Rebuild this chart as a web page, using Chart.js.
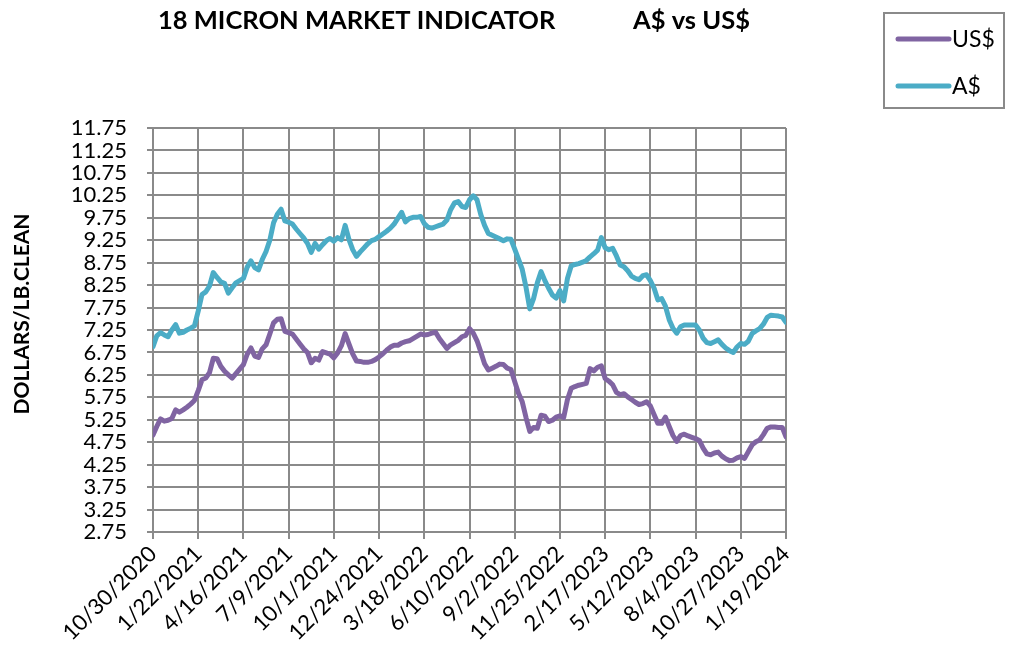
<!DOCTYPE html>
<html>
<head>
<meta charset="utf-8">
<script src="https://cdn.jsdelivr.net/npm/chart.js@4.4.1/dist/chart.umd.min.js"></script>
<style>
  html, body { margin: 0; padding: 0; background: #fff; }
</style>
</head>
<body>
<canvas id="myChart" width="1019" height="660"></canvas>
<script>
// Tick labels (one every 12 weeks) and y ticks
const tickLabels = ['10/30/2020', '1/22/2021', '4/16/2021', '7/9/2021', '10/1/2021', '12/24/2021',
    '3/18/2022', '6/10/2022', '9/2/2022', '11/25/2022', '2/17/2023', '5/12/2023',
    '8/4/2023', '10/27/2023', '1/19/2024'];
const yTicks = [2.75, 3.25, 3.75, 4.25, 4.75, 5.25, 5.75, 6.25, 6.75, 7.25, 7.75, 8.25, 8.75,
    9.25, 9.75, 10.25, 10.75, 11.25, 11.75];

// Weekly indicator, dollars/lb clean
const usd = [
    4.91, 5.10, 5.27, 5.22, 5.24, 5.28, 5.47, 5.42, 5.47, 5.53, 5.60, 5.68,
    5.90, 6.14, 6.18, 6.30, 6.62, 6.61, 6.44, 6.33, 6.25, 6.18, 6.28, 6.38,
    6.48, 6.71, 6.85, 6.67, 6.64, 6.83, 6.92, 7.16, 7.41, 7.49, 7.50, 7.22,
    7.19, 7.16, 7.05, 6.94, 6.83, 6.75, 6.52, 6.62, 6.58, 6.77, 6.74, 6.71,
    6.63, 6.74, 6.90, 7.17, 6.94, 6.72, 6.56, 6.55, 6.53, 6.53, 6.55, 6.59,
    6.65, 6.72, 6.80, 6.87, 6.91, 6.91, 6.96, 6.99, 7.01, 7.06, 7.11, 7.16,
    7.14, 7.15, 7.18, 7.20, 7.06, 6.95, 6.84, 6.92, 6.97, 7.02, 7.10, 7.13,
    7.28, 7.18, 7.01, 6.76, 6.50, 6.36, 6.40, 6.44, 6.49, 6.48, 6.40, 6.37,
    6.10, 5.84, 5.65, 5.30, 4.99, 5.08, 5.06, 5.35, 5.33, 5.21, 5.24, 5.31,
    5.34, 5.30, 5.70, 5.95, 5.99, 6.02, 6.04, 6.06, 6.39, 6.34, 6.42, 6.45,
    6.17, 6.11, 6.03, 5.86, 5.81, 5.83, 5.76, 5.70, 5.64, 5.59, 5.61, 5.65,
    5.56, 5.36, 5.17, 5.17, 5.31, 5.10, 4.90, 4.77, 4.90, 4.93, 4.89, 4.86,
    4.83, 4.79, 4.62, 4.49, 4.47, 4.51, 4.53, 4.44, 4.38, 4.34, 4.35, 4.40,
    4.43, 4.39, 4.54, 4.69, 4.76, 4.80, 4.92, 5.06, 5.09, 5.09, 5.08, 5.08,
    4.87
];
const aud = [
    6.88, 7.12, 7.19, 7.14, 7.10, 7.25, 7.37, 7.18, 7.20, 7.25, 7.29, 7.34,
    7.67, 8.04, 8.10, 8.23, 8.53, 8.42, 8.32, 8.29, 8.07, 8.19, 8.30, 8.35,
    8.40, 8.65, 8.79, 8.64, 8.59, 8.82, 9.00, 9.25, 9.64, 9.83, 9.94, 9.68,
    9.65, 9.61, 9.50, 9.40, 9.30, 9.18, 8.98, 9.18, 9.05, 9.15, 9.24, 9.29,
    9.23, 9.31, 9.26, 9.58, 9.27, 9.04, 8.89, 8.99, 9.08, 9.17, 9.24, 9.27,
    9.33, 9.39, 9.45, 9.52, 9.61, 9.74, 9.87, 9.66, 9.73, 9.76, 9.76, 9.78,
    9.62, 9.54, 9.52, 9.55, 9.58, 9.61, 9.70, 9.93, 10.08, 10.11, 10.00, 9.98,
    10.15, 10.24, 10.15, 9.82, 9.58, 9.40, 9.36, 9.32, 9.28, 9.24, 9.28, 9.27,
    9.05, 8.83, 8.60, 8.20, 7.72, 7.95, 8.30, 8.55, 8.35, 8.18, 8.03, 7.96,
    8.13, 7.90, 8.40, 8.68, 8.71, 8.73, 8.76, 8.80, 8.88, 8.95, 9.03, 9.31,
    9.08, 9.04, 9.07, 8.90, 8.70, 8.66, 8.57, 8.45, 8.40, 8.37, 8.46, 8.48,
    8.35, 8.18, 7.92, 7.95, 7.78, 7.48, 7.29, 7.18, 7.32, 7.36, 7.36, 7.36,
    7.36, 7.25, 7.07, 6.97, 6.95, 6.99, 7.03, 6.93, 6.85, 6.79, 6.75, 6.87,
    6.95, 6.93, 7.00, 7.17, 7.23, 7.28, 7.38, 7.53, 7.58, 7.57, 7.56, 7.54,
    7.42
];

const titleLeft = '18 MICRON MARKET INDICATOR';
const titleRight = 'A$ vs US$';
const yTitle = 'DOLLARS/LB.CLEAN';

const gridColor = '#8a8a8a';
const purple = '#8064a2';
const teal = '#4bacc6';

// Title, rotated axis title and boxed legend
const decor = {
    id: 'decor',
    afterDraw(chart) {
        const ctx = chart.ctx;
        ctx.save();
        ctx.fillStyle = '#000';
        ctx.textBaseline = 'middle';
        ctx.textAlign = 'left';
        ctx.font = 'bold 25.5px Lato';
        ctx.fillText(titleLeft, 158, 21);
        ctx.fillText(titleRight, 633, 21);

        ctx.save();
        ctx.translate(22, 314);
        ctx.rotate(-Math.PI / 2);
        ctx.textAlign = 'center';
        ctx.font = 'bold 21px Lato';
        ctx.fillText(yTitle, 0, 0);
        ctx.restore();

        // legend box
        ctx.strokeStyle = gridColor;
        ctx.lineWidth = 2;
        ctx.strokeRect(884, 13, 120, 95);
        ctx.lineCap = 'round';
        ctx.font = '23px Lato';
        chart.data.datasets.forEach((ds, k) => {
            const y = 39 + k * 47;
            ctx.strokeStyle = ds.borderColor;
            ctx.lineWidth = 5;
            ctx.beginPath();
            ctx.moveTo(898, y);
            ctx.lineTo(949, y);
            ctx.stroke();
            ctx.fillStyle = '#000';
            ctx.fillText(ds.label, 952, y + 1);
        });
        ctx.restore();
    }
};

const ctx = document.getElementById('myChart').getContext('2d');
const myChart = new Chart(ctx, {
    type: 'line',
    data: {
        datasets: [
            { label: 'US$', data: usd.map((v, i) => ({ x: i, y: v })), borderColor: purple },
            { label: 'A$', data: aud.map((v, i) => ({ x: i, y: v })), borderColor: teal }
        ]
    },
    options: {
        responsive: false,
        animation: false,
        devicePixelRatio: 1,
        layout: { padding: { top: 128, right: 233, left: 0, bottom: 0 } },
        elements: {
            line: { borderWidth: 5, tension: 0, borderJoinStyle: 'round', borderCapStyle: 'round' },
            point: { radius: 0 }
        },
        plugins: {
            legend: { display: false },
            title: { display: false },
            tooltip: { enabled: false }
        },
        scales: {
            x: {
                type: 'linear',
                min: 0,
                max: usd.length - 1,
                afterBuildTicks: scale => {
                    scale.ticks = tickLabels.map((_, k) => ({ value: k * 12 }));
                },
                afterFit: scale => { scale.height = 128; },
                grid: { color: gridColor, lineWidth: 2, tickLength: 7 },
                border: { color: gridColor, width: 2 },
                ticks: {
                    autoSkip: false,
                    maxRotation: 45,
                    minRotation: 45,
                    padding: 2,
                    color: '#000',
                    font: { family: 'Lato', size: 22 },
                    callback: (v, idx) => tickLabels[idx]
                }
            },
            y: {
                min: 2.75,
                max: 11.75,
                afterBuildTicks: scale => {
                    scale.ticks = yTicks.map(v => ({ value: v }));
                },
                afterFit: scale => { scale.width = 153; },
                grid: { color: gridColor, lineWidth: 2, tickLength: 6 },
                border: { color: gridColor, width: 2 },
                ticks: {
                    autoSkip: false,
                    padding: 20,
                    color: '#000',
                    font: { family: 'Lato', size: 22 },
                    callback: v => v.toFixed(2)
                }
            }
        }
    },
    plugins: [decor]
});
</script>
</body>
</html>
